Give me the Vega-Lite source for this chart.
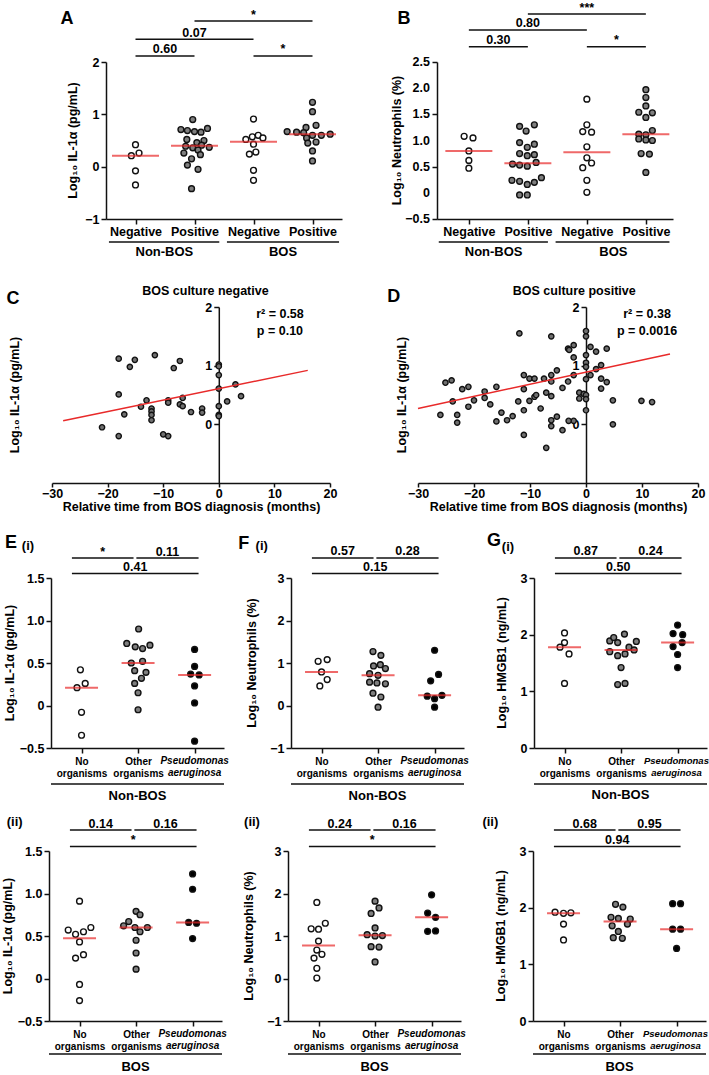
{
"$schema":"https://vega.github.io/schema/vega-lite/v6.json",
"padding":0,
"spacing":0,
"resolve":{"scale":{"fill":"independent"}},
"config":{"font":"Liberation Sans","view":{"stroke":null},
"axis":{"grid":false,"domainColor":"#111","domainWidth":1.5,"tickColor":"#111","tickWidth":1.5,"tickSize":5,"labelColor":"#000","labelFont":"Liberation Sans","labelFontWeight":"bold","labelFontSize":12.5,"labelPadding":2,"labelFlush":false,"labelOverlap":false,"titleFont":"Liberation Sans","titleFontWeight":"bold","titleFontSize":12.5,"titleColor":"#000"},
"text":{"font":"Liberation Sans","fontWeight":"bold","color":"#000"}},
"datasets":{
"a":[{"g":1,"c":"Negative","x":1.0,"v":0.42},{"g":1,"c":"Negative","x":1.06,"v":0.26},{"g":1,"c":"Negative","x":0.93,"v":0.21},{"g":1,"c":"Negative","x":1.0,"v":-0.08},{"g":1,"c":"Negative","x":1.0,"v":-0.35},
{"g":2,"c":"Positive","x":1.97,"v":0.90},{"g":2,"c":"Positive","x":2.22,"v":0.73},{"g":2,"c":"Positive","x":1.77,"v":0.71},{"g":2,"c":"Positive","x":1.88,"v":0.69},{"g":2,"c":"Positive","x":2.0,"v":0.67},{"g":2,"c":"Positive","x":2.11,"v":0.66},{"g":2,"c":"Positive","x":1.87,"v":0.52},{"g":2,"c":"Positive","x":2.16,"v":0.50},{"g":2,"c":"Positive","x":2.04,"v":0.46},{"g":2,"c":"Positive","x":2.12,"v":0.41},{"g":2,"c":"Positive","x":1.85,"v":0.39},{"g":2,"c":"Positive","x":2.25,"v":0.37},{"g":2,"c":"Positive","x":1.97,"v":0.36},{"g":2,"c":"Positive","x":2.06,"v":0.32},{"g":2,"c":"Positive","x":1.82,"v":0.26},{"g":2,"c":"Positive","x":2.1,"v":0.23},{"g":2,"c":"Positive","x":1.95,"v":0.15},{"g":2,"c":"Positive","x":1.88,"v":0.03},{"g":2,"c":"Positive","x":2.06,"v":-0.05},{"g":2,"c":"Positive","x":1.95,"v":-0.42},
{"g":3,"c":"Negative","x":3.0,"v":0.91},{"g":3,"c":"Negative","x":2.87,"v":0.52},{"g":3,"c":"Negative","x":2.98,"v":0.57},{"g":3,"c":"Negative","x":3.08,"v":0.60},{"g":3,"c":"Negative","x":3.16,"v":0.55},{"g":3,"c":"Negative","x":3.0,"v":0.43},{"g":3,"c":"Negative","x":3.04,"v":0.28},{"g":3,"c":"Negative","x":2.93,"v":0.24},{"g":3,"c":"Negative","x":3.0,"v":-0.07},{"g":3,"c":"Negative","x":3.0,"v":-0.26},
{"g":4,"c":"Positive","x":4.0,"v":1.23},{"g":4,"c":"Positive","x":4.0,"v":1.05},{"g":4,"c":"Positive","x":4.06,"v":0.79},{"g":4,"c":"Positive","x":3.89,"v":0.75},{"g":4,"c":"Positive","x":3.57,"v":0.67},{"g":4,"c":"Positive","x":3.73,"v":0.66},{"g":4,"c":"Positive","x":3.85,"v":0.65},{"g":4,"c":"Positive","x":4.3,"v":0.62},{"g":4,"c":"Positive","x":4.15,"v":0.60},{"g":4,"c":"Positive","x":4.0,"v":0.60},{"g":4,"c":"Positive","x":3.9,"v":0.55},{"g":4,"c":"Positive","x":4.06,"v":0.47},{"g":4,"c":"Positive","x":3.92,"v":0.45},{"g":4,"c":"Positive","x":4.0,"v":0.30},{"g":4,"c":"Positive","x":4.0,"v":0.11}],
"b":[{"g":1,"c":"Negative","x":0.92,"v":1.08},{"g":1,"c":"Negative","x":1.07,"v":1.05},{"g":1,"c":"Negative","x":1.0,"v":0.80},{"g":1,"c":"Negative","x":1.0,"v":0.62},{"g":1,"c":"Negative","x":1.0,"v":0.47},
{"g":2,"c":"Positive","x":1.86,"v":1.27},{"g":2,"c":"Positive","x":2.11,"v":1.30},{"g":2,"c":"Positive","x":1.97,"v":1.18},{"g":2,"c":"Positive","x":1.86,"v":0.96},{"g":2,"c":"Positive","x":1.99,"v":0.87},{"g":2,"c":"Positive","x":2.11,"v":0.93},{"g":2,"c":"Positive","x":1.86,"v":0.75},{"g":2,"c":"Positive","x":1.99,"v":0.71},{"g":2,"c":"Positive","x":2.11,"v":0.73},{"g":2,"c":"Positive","x":1.74,"v":0.55},{"g":2,"c":"Positive","x":1.86,"v":0.53},{"g":2,"c":"Positive","x":1.99,"v":0.51},{"g":2,"c":"Positive","x":2.14,"v":0.58},{"g":2,"c":"Positive","x":1.73,"v":0.24},{"g":2,"c":"Positive","x":1.86,"v":0.22},{"g":2,"c":"Positive","x":1.99,"v":0.16},{"g":2,"c":"Positive","x":2.11,"v":0.20},{"g":2,"c":"Positive","x":2.23,"v":0.29},{"g":2,"c":"Positive","x":1.86,"v":-0.04},{"g":2,"c":"Positive","x":1.99,"v":-0.04},
{"g":3,"c":"Negative","x":3.0,"v":1.79},{"g":3,"c":"Negative","x":3.0,"v":1.30},{"g":3,"c":"Negative","x":2.93,"v":1.17},{"g":3,"c":"Negative","x":3.08,"v":1.16},{"g":3,"c":"Negative","x":3.0,"v":0.88},{"g":3,"c":"Negative","x":3.0,"v":0.67},{"g":3,"c":"Negative","x":3.08,"v":0.57},{"g":3,"c":"Negative","x":2.93,"v":0.48},{"g":3,"c":"Negative","x":3.0,"v":0.24},{"g":3,"c":"Negative","x":3.0,"v":0.01},
{"g":4,"c":"Positive","x":4.0,"v":1.97},{"g":4,"c":"Positive","x":4.0,"v":1.82},{"g":4,"c":"Positive","x":4.0,"v":1.66},{"g":4,"c":"Positive","x":3.88,"v":1.54},{"g":4,"c":"Positive","x":4.11,"v":1.53},{"g":4,"c":"Positive","x":4.0,"v":1.44},{"g":4,"c":"Positive","x":4.11,"v":1.19},{"g":4,"c":"Positive","x":3.88,"v":1.12},{"g":4,"c":"Positive","x":4.0,"v":1.11},{"g":4,"c":"Positive","x":3.88,"v":1.03},{"g":4,"c":"Positive","x":4.0,"v":1.01},{"g":4,"c":"Positive","x":4.11,"v":1.00},{"g":4,"c":"Positive","x":3.92,"v":0.75},{"g":4,"c":"Positive","x":4.06,"v":0.74},{"g":4,"c":"Positive","x":4.0,"v":0.39}],
"il":[{"b":"Non-BOS","k":1,"x":0.98,"v":0.42},{"b":"Non-BOS","k":1,"x":1.065,"v":0.26},{"b":"Non-BOS","k":1,"x":0.92,"v":0.21},{"b":"Non-BOS","k":1,"x":1.0,"v":-0.08},{"b":"Non-BOS","k":1,"x":1.0,"v":-0.35},
{"b":"Non-BOS","k":2,"x":2.01,"v":0.90},{"b":"Non-BOS","k":2,"x":1.8,"v":0.73},{"b":"Non-BOS","k":2,"x":1.95,"v":0.69},{"b":"Non-BOS","k":2,"x":2.08,"v":0.67},{"b":"Non-BOS","k":2,"x":2.21,"v":0.71},{"b":"Non-BOS","k":2,"x":1.88,"v":0.50},{"b":"Non-BOS","k":2,"x":2.08,"v":0.52},{"b":"Non-BOS","k":2,"x":1.94,"v":0.41},{"b":"Non-BOS","k":2,"x":2.14,"v":0.39},{"b":"Non-BOS","k":2,"x":2.06,"v":0.32},{"b":"Non-BOS","k":2,"x":1.94,"v":0.26},{"b":"Non-BOS","k":2,"x":2.0,"v":0.15},{"b":"Non-BOS","k":2,"x":2.0,"v":-0.05},
{"b":"Non-BOS","k":3,"x":3.0,"v":0.66},{"b":"Non-BOS","k":3,"x":3.0,"v":0.46},{"b":"Non-BOS","k":3,"x":2.93,"v":0.37},{"b":"Non-BOS","k":3,"x":3.08,"v":0.36},{"b":"Non-BOS","k":3,"x":3.0,"v":0.23},{"b":"Non-BOS","k":3,"x":3.0,"v":0.03},{"b":"Non-BOS","k":3,"x":3.0,"v":-0.42},
{"b":"BOS","k":1,"x":1.0,"v":0.91},{"b":"BOS","k":1,"x":0.8,"v":0.57},{"b":"BOS","k":1,"x":0.93,"v":0.52},{"b":"BOS","k":1,"x":1.07,"v":0.55},{"b":"BOS","k":1,"x":1.2,"v":0.60},{"b":"BOS","k":1,"x":1.0,"v":0.43},{"b":"BOS","k":1,"x":1.07,"v":0.28},{"b":"BOS","k":1,"x":0.93,"v":0.24},{"b":"BOS","k":1,"x":1.0,"v":-0.07},{"b":"BOS","k":1,"x":1.0,"v":-0.26},
{"b":"BOS","k":2,"x":2.0,"v":0.79},{"b":"BOS","k":2,"x":2.07,"v":0.75},{"b":"BOS","k":2,"x":1.87,"v":0.67},{"b":"BOS","k":2,"x":1.78,"v":0.62},{"b":"BOS","k":2,"x":1.98,"v":0.60},{"b":"BOS","k":2,"x":2.2,"v":0.60},{"b":"BOS","k":2,"x":2.07,"v":0.55},{"b":"BOS","k":2,"x":2.0,"v":0.45},{"b":"BOS","k":2,"x":2.0,"v":0.30},{"b":"BOS","k":2,"x":2.0,"v":0.11},
{"b":"BOS","k":3,"x":3.0,"v":1.23},{"b":"BOS","k":3,"x":3.0,"v":1.05},{"b":"BOS","k":3,"x":2.93,"v":0.66},{"b":"BOS","k":3,"x":3.07,"v":0.65},{"b":"BOS","k":3,"x":3.0,"v":0.47}],
"ne":[{"b":"Non-BOS","k":1,"x":0.94,"v":1.04},{"b":"Non-BOS","k":1,"x":1.1,"v":1.08},{"b":"Non-BOS","k":1,"x":1.0,"v":0.79},{"b":"Non-BOS","k":1,"x":1.1,"v":0.61},{"b":"Non-BOS","k":1,"x":0.97,"v":0.46},
{"b":"Non-BOS","k":2,"x":1.91,"v":1.27},{"b":"Non-BOS","k":2,"x":2.05,"v":1.18},{"b":"Non-BOS","k":2,"x":1.92,"v":0.93},{"b":"Non-BOS","k":2,"x":2.04,"v":0.96},{"b":"Non-BOS","k":2,"x":2.13,"v":0.87},{"b":"Non-BOS","k":2,"x":1.85,"v":0.75},{"b":"Non-BOS","k":2,"x":2.0,"v":0.71},{"b":"Non-BOS","k":2,"x":1.85,"v":0.55},{"b":"Non-BOS","k":2,"x":1.98,"v":0.53},{"b":"Non-BOS","k":2,"x":2.13,"v":0.51},{"b":"Non-BOS","k":2,"x":1.91,"v":0.29},{"b":"Non-BOS","k":2,"x":2.05,"v":0.20},{"b":"Non-BOS","k":2,"x":2.0,"v":-0.04},
{"b":"Non-BOS","k":3,"x":3.0,"v":1.30},{"b":"Non-BOS","k":3,"x":3.07,"v":0.73},{"b":"Non-BOS","k":3,"x":2.93,"v":0.58},{"b":"Non-BOS","k":3,"x":2.87,"v":0.22},{"b":"Non-BOS","k":3,"x":3.0,"v":0.16},{"b":"Non-BOS","k":3,"x":3.13,"v":0.24},{"b":"Non-BOS","k":3,"x":3.0,"v":-0.04},
{"b":"BOS","k":1,"x":0.97,"v":1.79},{"b":"BOS","k":1,"x":1.12,"v":1.30},{"b":"BOS","k":1,"x":0.87,"v":1.17},{"b":"BOS","k":1,"x":1.0,"v":1.16},{"b":"BOS","k":1,"x":1.0,"v":0.88},{"b":"BOS","k":1,"x":0.97,"v":0.67},{"b":"BOS","k":1,"x":1.06,"v":0.57},{"b":"BOS","k":1,"x":0.92,"v":0.48},{"b":"BOS","k":1,"x":0.97,"v":0.24},{"b":"BOS","k":1,"x":0.97,"v":0.01},
{"b":"BOS","k":2,"x":2.0,"v":1.82},{"b":"BOS","k":2,"x":2.07,"v":1.66},{"b":"BOS","k":2,"x":1.93,"v":1.53},{"b":"BOS","k":2,"x":2.0,"v":1.19},{"b":"BOS","k":2,"x":1.86,"v":1.03},{"b":"BOS","k":2,"x":2.0,"v":1.00},{"b":"BOS","k":2,"x":2.13,"v":1.01},{"b":"BOS","k":2,"x":1.93,"v":0.75},{"b":"BOS","k":2,"x":2.07,"v":0.74},{"b":"BOS","k":2,"x":2.0,"v":0.39},
{"b":"BOS","k":3,"x":3.0,"v":1.97},{"b":"BOS","k":3,"x":2.93,"v":1.54},{"b":"BOS","k":3,"x":3.07,"v":1.44},{"b":"BOS","k":3,"x":2.93,"v":1.11},{"b":"BOS","k":3,"x":3.07,"v":1.12}],
"hm":[{"b":"Non-BOS","k":1,"x":1.0,"v":2.03},{"b":"Non-BOS","k":1,"x":1.0,"v":1.86},{"b":"Non-BOS","k":1,"x":0.92,"v":1.78},{"b":"Non-BOS","k":1,"x":1.08,"v":1.66},{"b":"Non-BOS","k":1,"x":1.0,"v":1.14},
{"b":"Non-BOS","k":2,"x":1.8,"v":1.89},{"b":"Non-BOS","k":2,"x":1.87,"v":1.95},{"b":"Non-BOS","k":2,"x":1.94,"v":1.86},{"b":"Non-BOS","k":2,"x":2.06,"v":2.01},{"b":"Non-BOS","k":2,"x":2.27,"v":1.88},{"b":"Non-BOS","k":2,"x":1.8,"v":1.70},{"b":"Non-BOS","k":2,"x":1.94,"v":1.63},{"b":"Non-BOS","k":2,"x":2.07,"v":1.66},{"b":"Non-BOS","k":2,"x":2.14,"v":1.78},{"b":"Non-BOS","k":2,"x":2.23,"v":1.73},{"b":"Non-BOS","k":2,"x":2.0,"v":1.42},{"b":"Non-BOS","k":2,"x":1.94,"v":1.12},{"b":"Non-BOS","k":2,"x":2.07,"v":1.14},
{"b":"Non-BOS","k":3,"x":3.0,"v":2.17},{"b":"Non-BOS","k":3,"x":2.92,"v":2.02},{"b":"Non-BOS","k":3,"x":3.09,"v":2.00},{"b":"Non-BOS","k":3,"x":2.92,"v":1.79},{"b":"Non-BOS","k":3,"x":3.08,"v":1.86},{"b":"Non-BOS","k":3,"x":3.0,"v":1.65},{"b":"Non-BOS","k":3,"x":3.0,"v":1.42},
{"b":"BOS","k":1,"x":0.85,"v":1.92},{"b":"BOS","k":1,"x":1.0,"v":1.90},{"b":"BOS","k":1,"x":1.13,"v":1.91},{"b":"BOS","k":1,"x":1.0,"v":1.71},{"b":"BOS","k":1,"x":1.0,"v":1.43},
{"b":"BOS","k":2,"x":1.92,"v":2.06},{"b":"BOS","k":2,"x":2.05,"v":2.01},{"b":"BOS","k":2,"x":1.84,"v":1.83},{"b":"BOS","k":2,"x":1.97,"v":1.81},{"b":"BOS","k":2,"x":2.18,"v":1.80},{"b":"BOS","k":2,"x":1.86,"v":1.68},{"b":"BOS","k":2,"x":2.13,"v":1.71},{"b":"BOS","k":2,"x":1.97,"v":1.58},{"b":"BOS","k":2,"x":1.88,"v":1.47},{"b":"BOS","k":2,"x":2.04,"v":1.46},
{"b":"BOS","k":3,"x":2.93,"v":2.07},{"b":"BOS","k":3,"x":3.07,"v":2.07},{"b":"BOS","k":3,"x":2.93,"v":1.62},{"b":"BOS","k":3,"x":3.07,"v":1.62},{"b":"BOS","k":3,"x":3.0,"v":1.28}],
"cn":[{"t":-18,"v":1.12},{"t":-15.1,"v":1.10},{"t":-11.5,"v":1.18},{"t":-16,"v":0.98},{"t":-7,"v":1.08},{"t":-8.1,"v":0.96},{"t":0,"v":1.02},{"t":0,"v":0.99},{"t":0,"v":0.84},{"t":0,"v":0.61},{"t":3,"v":0.68},{"t":4,"v":0.48},{"t":1.5,"v":0.39},{"t":0,"v":0.31},{"t":0,"v":0.16},{"t":0,"v":0.14},{"t":-18,"v":0.51},{"t":-13,"v":0.41},{"t":-14,"v":0.30},{"t":-17,"v":0.17},{"t":-12.1,"v":0.27},{"t":-12.1,"v":0.22},{"t":-12.1,"v":0.16},{"t":-12.1,"v":0.07},{"t":-9.1,"v":0.41},{"t":-9.1,"v":0.37},{"t":-7,"v":0.34},{"t":-6.5,"v":0.45},{"t":-6.5,"v":0.31},{"t":-5,"v":0.21},{"t":-3,"v":0.27},{"t":-3,"v":0.20},{"t":-21,"v":-0.05},{"t":-18,"v":-0.20},{"t":-10,"v":-0.17},{"t":-9.1,"v":-0.20}],
"cp":[{"t":-26,"v":0.16},{"t":-25.1,"v":0.71},{"t":-24,"v":0.75},{"t":-23.8,"v":0.39},{"t":-23,"v":0.16},{"t":-23,"v":0.03},{"t":-22.1,"v":0.60},{"t":-21,"v":0.64},{"t":-21,"v":0.30},{"t":-20,"v":0.41},{"t":-18.1,"v":0.56},{"t":-18.1,"v":0.45},{"t":-17.1,"v":0.34},{"t":-16,"v":0.64},{"t":-16,"v":0.05},{"t":-15.1,"v":0.20},{"t":-14.1,"v":0.07},{"t":-13.1,"v":0.14},{"t":-12.1,"v":0.39},{"t":-11.9,"v":1.55},{"t":-11.1,"v":0.84},{"t":-11.1,"v":0.60},{"t":-11.1,"v":0.24},{"t":-11.1,"v":-0.18},{"t":-10.1,"v":0.78},{"t":-10.1,"v":0.40},{"t":-9.2,"v":0.78},{"t":-9.2,"v":0.47},{"t":-8.9,"v":0.50},{"t":-8.1,"v":0.27},{"t":-7.5,"v":0.78},{"t":-7.1,"v":0.54},{"t":-7.1,"v":-0.40},{"t":-6.2,"v":1.50},{"t":-6.2,"v":0.84},{"t":-6.2,"v":0.73},{"t":-6.2,"v":0.48},{"t":-6.2,"v":0.07},{"t":-6.2,"v":-0.03},{"t":-5.2,"v":0.13},{"t":-5.2,"v":0.92},{"t":-4.2,"v":0.62},{"t":-4.2,"v":-0.10},{"t":-3.2,"v":0.73},{"t":-3.2,"v":1.29},{"t":-3.0,"v":1.27},{"t":-2.2,"v":1.35},{"t":-2.2,"v":1.14},{"t":-2.2,"v":0.84},{"t":-2.2,"v":0.06},{"t":-3.1,"v":0.06},{"t":-1.2,"v":0.54},{"t":-1.2,"v":0.44},{"t":-0.4,"v":0.52},{"t":0,"v":1.59},{"t":0,"v":1.50},{"t":0,"v":1.18},{"t":0,"v":1.05},{"t":0,"v":0.98},{"t":0,"v":0.77},{"t":0,"v":0.50},{"t":0,"v":0.43},{"t":0,"v":0.24},{"t":0.8,"v":1.32},{"t":0.8,"v":0.84},{"t":1.8,"v":1.24},{"t":1.8,"v":0.94},{"t":2.7,"v":1.01},{"t":2.7,"v":0.78},{"t":2.7,"v":0.61},{"t":3.7,"v":1.29},{"t":3.7,"v":0.72},{"t":4.8,"v":0.41},{"t":4.8,"v":0.0},{"t":9.9,"v":0.40},{"t":11.8,"v":0.38}]
},
"vconcat":[
{"hconcat":[
{"width":1,"height":1,"data":{"values":[{}]},"mark":{"type":"rule","opacity":0,"strokeWidth":0},"encoding":{}},
{"width":236,"height":157,"layer":[
{"data":{"name":"a"},"mark":{"type":"point","shape":"circle","filled":true,"size":34,"stroke":"#111","strokeWidth":1.4,"opacity":1},
"encoding":{"x":{"field":"x","type":"quantitative","scale":{"domain":[0.5,4.5],"nice":false,"zero":false},"axis":{"values":[1,2,3,4],"title":null,"labelExpr":"datum.value%2==1?'Negative':'Positive'","labelPadding":1}},
"y":{"field":"v","type":"quantitative","scale":{"domain":[-1,2],"nice":false,"zero":false},"axis":{"values":[-1,0,1,2],"format":"d","title":null}},
"fill":{"field":"c","type":"nominal","scale":{"domain":["Negative","Positive"],"range":["#ffffff","#7f7f7f"]},"legend":null}}},
{"data":{"name":"a"},"transform":[{"aggregate":[{"op":"median","field":"v","as":"m"}],"groupby":["g"]}],"mark":{"type":"tick","orient":"horizontal","color":"#e82a2a","size":47,"thickness":2},"encoding":{"x":{"field":"g","type":"quantitative"},"y":{"field":"m","type":"quantitative"}}},
{"data":{"values":[{"x1":1,"x2":2,"y":2.115,"t":"0.60","m":1.5},{"x1":1,"x2":3,"y":2.434,"t":"0.07","m":2},{"x1":2,"x2":4,"y":2.783,"t":"*","m":3},{"x1":3,"x2":4,"y":2.115,"t":"*","m":3.5}]},"layer":[
{"mark":{"type":"rule","color":"#111","strokeWidth":1.5},"encoding":{"x":{"field":"x1","type":"quantitative"},"x2":{"field":"x2"},"y":{"field":"y","type":"quantitative"}}},
{"mark":{"type":"text","dy":-2.5,"fontSize":12.5,"baseline":"alphabetic"},"encoding":{"x":{"field":"m","type":"quantitative"},"y":{"field":"y","type":"quantitative"},"text":{"field":"t","type":"nominal"}}}]},
{"data":{"values":[{"x1":0.55,"x2":2.42,"y":-1.44,"ty":-1.63,"t":"Non-BOS","m":1.49},{"x1":2.55,"x2":4.45,"y":-1.44,"ty":-1.63,"t":"BOS","m":3.5}]},"layer":[
{"mark":{"type":"rule","color":"#111","strokeWidth":1.5},"encoding":{"x":{"field":"x1","type":"quantitative"},"x2":{"field":"x2"},"y":{"field":"y","type":"quantitative"}}},
{"mark":{"type":"text","fontSize":13,"baseline":"middle"},"encoding":{"x":{"field":"m","type":"quantitative"},"y":{"field":"ty","type":"quantitative"},"text":{"field":"t","type":"nominal"}}}]},
{"data":{"values":[{"x":-0.059,"y":0.5,"t":"Log₁₀ IL-1α (pg/mL)"}]},"mark":{"type":"text","fontSize":12.5,"angle":270,"baseline":"middle","align":"center"},"encoding":{"x":{"field":"x","type":"quantitative"},"y":{"field":"y","type":"quantitative"},"text":{"field":"t","type":"nominal"}}},
{"data":{"values":[{"x":-0.16,"y":2.822,"t":"A"}]},"mark":{"type":"text","fontSize":18,"baseline":"middle"},"encoding":{"x":{"field":"x","type":"quantitative"},"y":{"field":"y","type":"quantitative"},"text":{"field":"t","type":"nominal"}}},
{"data":{"values":[{"x1":-1.254,"x2":4.99,"y1":3.166,"y2":-1.898}]},"mark":{"type":"rule","opacity":0,"strokeWidth":0},"encoding":{"x":{"field":"x1","type":"quantitative"},"x2":{"field":"x2"},"y":{"field":"y1","type":"quantitative"},"y2":{"field":"y2"}}}
]},
{"width":236,"height":157,"layer":[
{"data":{"name":"b"},"mark":{"type":"point","shape":"circle","filled":true,"size":34,"stroke":"#111","strokeWidth":1.4,"opacity":1},
"encoding":{"x":{"field":"x","type":"quantitative","scale":{"domain":[0.46,4.46],"nice":false,"zero":false},"axis":{"values":[1,2,3,4],"title":null,"labelExpr":"datum.value%2==1?'Negative':'Positive'","labelPadding":1}},
"y":{"field":"v","type":"quantitative","scale":{"domain":[-0.5,2.5],"nice":false,"zero":false},"axis":{"values":[-0.5,0,0.5,1,1.5,2,2.5],"labels":false,"title":null}},
"fill":{"field":"c","type":"nominal","scale":{"domain":["Negative","Positive"],"range":["#ffffff","#7f7f7f"]},"legend":null}}},
{"data":{"name":"b"},"transform":[{"aggregate":[{"op":"median","field":"v","as":"m"}],"groupby":["g"]}],"mark":{"type":"tick","orient":"horizontal","color":"#e82a2a","size":47,"thickness":2},"encoding":{"x":{"field":"g","type":"quantitative"},"y":{"field":"m","type":"quantitative"}}},
{"data":{"values":[{"x":0.341,"y":2.5,"t":"2.5"},{"x":0.341,"y":2.0,"t":"2.0"},{"x":0.341,"y":1.5,"t":"1.5"},{"x":0.341,"y":1.0,"t":"1.0"},{"x":0.341,"y":0.5,"t":"0.5"},{"x":0.341,"y":0,"t":"0"},{"x":0.341,"y":-0.5,"t":"−0.5"}]},"mark":{"type":"text","fontSize":12.5,"align":"right","baseline":"middle"},"encoding":{"x":{"field":"x","type":"quantitative"},"y":{"field":"y","type":"quantitative"},"text":{"field":"t","type":"nominal"}}},
{"data":{"values":[{"x1":1,"x2":2,"y":2.792,"t":"0.30","m":1.5},{"x1":1,"x2":3,"y":3.112,"t":"0.80","m":2},{"x1":2,"x2":4,"y":3.417,"t":"***","m":3},{"x1":3,"x2":4,"y":2.792,"t":"*","m":3.5}]},"layer":[
{"mark":{"type":"rule","color":"#111","strokeWidth":1.5},"encoding":{"x":{"field":"x1","type":"quantitative"},"x2":{"field":"x2"},"y":{"field":"y","type":"quantitative"}}},
{"mark":{"type":"text","dy":-2.5,"fontSize":12.5,"baseline":"alphabetic"},"encoding":{"x":{"field":"m","type":"quantitative"},"y":{"field":"y","type":"quantitative"},"text":{"field":"t","type":"nominal"}}}]},
{"data":{"values":[{"x1":0.49,"x2":2.34,"y":-0.94,"ty":-1.131,"t":"Non-BOS","m":1.42},{"x1":2.47,"x2":4.4,"y":-0.94,"ty":-1.131,"t":"BOS","m":3.45}]},"layer":[
{"mark":{"type":"rule","color":"#111","strokeWidth":1.5},"encoding":{"x":{"field":"x1","type":"quantitative"},"x2":{"field":"x2"},"y":{"field":"y","type":"quantitative"}}},
{"mark":{"type":"text","fontSize":13,"baseline":"middle"},"encoding":{"x":{"field":"m","type":"quantitative"},"y":{"field":"ty","type":"quantitative"},"text":{"field":"t","type":"nominal"}}}]},
{"data":{"values":[{"x":-0.218,"y":1.0,"t":"Log₁₀ Neutrophils (%)"}]},"mark":{"type":"text","fontSize":12.5,"angle":270,"baseline":"middle","align":"center"},"encoding":{"x":{"field":"x","type":"quantitative"},"y":{"field":"y","type":"quantitative"},"text":{"field":"t","type":"nominal"}}},
{"data":{"values":[{"x":-0.099,"y":3.322,"t":"B"}]},"mark":{"type":"text","fontSize":18,"baseline":"middle"},"encoding":{"x":{"field":"x","type":"quantitative"},"y":{"field":"y","type":"quantitative"},"text":{"field":"t","type":"nominal"}}},
{"data":{"values":[{"x1":-0.642,"x2":5.09,"y1":3.666,"y2":-1.398}]},"mark":{"type":"rule","opacity":0,"strokeWidth":0},"encoding":{"x":{"field":"x1","type":"quantitative"},"x2":{"field":"x2"},"y":{"field":"y1","type":"quantitative"},"y2":{"field":"y2"}}}
]}
],"spacing":0,"resolve":{"scale":{"fill":"independent"}}},
{"hconcat":[
{"width":1,"height":1,"data":{"values":[{}]},"mark":{"type":"rule","opacity":0,"strokeWidth":0},"encoding":{}},
{"width":278,"height":176,"layer":[
{"data":{"name":"cn"},"mark":{"type":"point","shape":"circle","filled":true,"size":28,"fill":"#707070","stroke":"#111","strokeWidth":1.4,"opacity":1},
"encoding":{"x":{"field":"t","type":"quantitative","scale":{"domain":[-30,20],"nice":false,"zero":false},"axis":{"values":[-30,-20,-10,0,10,20],"format":"d","title":"Relative time from BOS diagnosis (months)","titlePadding":1,"labelPadding":0,"tickSize":4}},
"y":{"field":"v","type":"quantitative","scale":{"domain":[-1,2],"nice":false,"zero":false},"axis":{"values":[0,1,2],"format":"d","offset":-166.8,"title":null}}}},
{"data":{"values":[{"t":-28,"v":0.06},{"t":16,"v":0.92}]},"mark":{"type":"line","color":"#e82a2a","strokeWidth":1.5},"encoding":{"x":{"field":"t","type":"quantitative"},"y":{"field":"v","type":"quantitative"}}},
{"data":{"values":[{"x":-2.4,"y":2.27,"t":"BOS culture negative"},{"x":11,"y":1.88,"t":"r² = 0.58"},{"x":11,"y":1.59,"t":"p = 0.10"}]},"mark":{"type":"text","fontSize":12.5,"baseline":"middle"},"encoding":{"x":{"field":"x","type":"quantitative"},"y":{"field":"y","type":"quantitative"},"text":{"field":"t","type":"nominal"}}},
{"data":{"values":[{"x":-36.65,"y":0.5,"t":"Log₁₀ IL-1α (pg/mL)"}]},"mark":{"type":"text","fontSize":12.5,"angle":270,"baseline":"middle","align":"center"},"encoding":{"x":{"field":"x","type":"quantitative"},"y":{"field":"y","type":"quantitative"},"text":{"field":"t","type":"nominal"}}},
{"data":{"values":[{"x":-37.0,"y":2.14,"t":"C"}]},"mark":{"type":"text","fontSize":18,"baseline":"middle"},"encoding":{"x":{"field":"x","type":"quantitative"},"y":{"field":"y","type":"quantitative"},"text":{"field":"t","type":"nominal"}}},
{"data":{"values":[{"x1":-38.9,"x2":26.47,"y1":2.682,"y2":-1.784}]},"mark":{"type":"rule","opacity":0,"strokeWidth":0},"encoding":{"x":{"field":"x1","type":"quantitative"},"x2":{"field":"x2"},"y":{"field":"y1","type":"quantitative"},"y2":{"field":"y2"}}}
]},
{"width":280,"height":176,"layer":[
{"data":{"name":"cp"},"mark":{"type":"point","shape":"circle","filled":true,"size":28,"fill":"#707070","stroke":"#111","strokeWidth":1.4,"opacity":1},
"encoding":{"x":{"field":"t","type":"quantitative","scale":{"domain":[-30,20],"nice":false,"zero":false},"axis":{"values":[-30,-20,-10,0,10,20],"format":"d","title":"Relative time from BOS diagnosis (months)","titlePadding":1,"labelPadding":0,"tickSize":4}},
"y":{"field":"v","type":"quantitative","scale":{"domain":[-1,2],"nice":false,"zero":false},"axis":{"values":[0,1,2],"format":"d","offset":-168,"title":null}}}},
{"data":{"values":[{"t":-30,"v":0.27},{"t":15,"v":1.2}]},"mark":{"type":"line","color":"#e82a2a","strokeWidth":1.5},"encoding":{"x":{"field":"t","type":"quantitative"},"y":{"field":"v","type":"quantitative"}}},
{"data":{"values":[{"x":-2.1,"y":2.27,"t":"BOS culture positive"},{"x":10.9,"y":1.88,"t":"r² = 0.38"},{"x":10.9,"y":1.59,"t":"p = 0.0016"}]},"mark":{"type":"text","fontSize":12.5,"baseline":"middle"},"encoding":{"x":{"field":"x","type":"quantitative"},"y":{"field":"y","type":"quantitative"},"text":{"field":"t","type":"nominal"}}},
{"data":{"values":[{"x":-32.86,"y":0.5,"t":"Log₁₀ IL-1α (pg/mL)"}]},"mark":{"type":"text","fontSize":12.5,"angle":270,"baseline":"middle","align":"center"},"encoding":{"x":{"field":"x","type":"quantitative"},"y":{"field":"y","type":"quantitative"},"text":{"field":"t","type":"nominal"}}},
{"data":{"values":[{"x":-34.34,"y":2.17,"t":"D"}]},"mark":{"type":"text","fontSize":18,"baseline":"middle"},"encoding":{"x":{"field":"x","type":"quantitative"},"y":{"field":"y","type":"quantitative"},"text":{"field":"t","type":"nominal"}}},
{"data":{"values":[{"x1":-39.11,"x2":22.2,"y1":2.682,"y2":-1.784}]},"mark":{"type":"rule","opacity":0,"strokeWidth":0},"encoding":{"x":{"field":"x1","type":"quantitative"},"x2":{"field":"x2"},"y":{"field":"y1","type":"quantitative"},"y2":{"field":"y2"}}}
]}
],"spacing":0,"resolve":{"scale":{"fill":"independent"}}},
{"hconcat":[
{"width":1,"height":1,"data":{"values":[{}]},"mark":{"type":"rule","opacity":0,"strokeWidth":0},"encoding":{}},
{"width":173,"height":170,"layer":[
{"data":{"name":"il"},"transform":[{"filter":"datum.b=='Non-BOS'"}],"mark":{"type":"point","shape":"circle","filled":true,"size":34,"stroke":"#111","strokeWidth":1.4,"opacity":1},
"encoding":{"x":{"field":"x","type":"quantitative","scale":{"domain":[0.46,3.52],"nice":false,"zero":false},"axis":{"values":[1,2,3],"title":null,"labelFontSize":10,"labelLineHeight":12.5,"labelPadding":3,"labelExpr":"datum.value==1?['No','organisms']:datum.value==2?['Other','organisms']:''"}},
"y":{"field":"v","type":"quantitative","scale":{"domain":[-0.5,1.5],"nice":false,"zero":false},"axis":{"values":[-0.5,0,0.5,1,1.5],"labelExpr":"datum.value==0?'0':format(datum.value,'.1f')","title":null}},
"fill":{"field":"k","type":"nominal","scale":{"domain":[1,2,3],"range":["#ffffff","#7f7f7f","#000000"]},"legend":null}}},
{"data":{"name":"il"},"transform":[{"filter":"datum.b=='Non-BOS'"},{"aggregate":[{"op":"median","field":"v","as":"m"}],"groupby":["k"]}],"mark":{"type":"tick","orient":"horizontal","color":"#e82a2a","size":33,"thickness":2},"encoding":{"x":{"field":"k","type":"quantitative"},"y":{"field":"m","type":"quantitative"}}},
{"data":{"values":[{"x1":0.83,"x2":1.92,"y":1.735,"t":"*","m":1.375},{"x1":1.97,"x2":3.07,"y":1.735,"t":"0.11","m":2.52},{"x1":0.83,"x2":3.07,"y":1.553,"t":"0.41","m":1.95}]},"layer":[
{"mark":{"type":"rule","color":"#111","strokeWidth":1.5},"encoding":{"x":{"field":"x1","type":"quantitative"},"x2":{"field":"x2"},"y":{"field":"y","type":"quantitative"}}},
{"mark":{"type":"text","dy":-2.5,"fontSize":12.5,"baseline":"alphabetic"},"encoding":{"x":{"field":"m","type":"quantitative"},"y":{"field":"y","type":"quantitative"},"text":{"field":"t","type":"nominal"}}}]},
{"data":{"values":[{"x1":0.46,"x2":3.52,"y":-0.924,"ty":-1.059,"t":"Non-BOS","m":1.99}]},"layer":[
{"mark":{"type":"rule","color":"#111","strokeWidth":1.5},"encoding":{"x":{"field":"x1","type":"quantitative"},"x2":{"field":"x2"},"y":{"field":"y","type":"quantitative"}}},
{"mark":{"type":"text","fontSize":13,"baseline":"middle"},"encoding":{"x":{"field":"m","type":"quantitative"},"y":{"field":"ty","type":"quantitative"},"text":{"field":"t","type":"nominal"}}}]},
{"data":{"values":[{"x":3,"y":-0.594}]},"mark":{"type":"text","fontSize":10,"fontStyle":"italic","baseline":"top","lineHeight":12.5},"encoding":{"x":{"field":"x","type":"quantitative"},"y":{"field":"y","type":"quantitative"},"text":{"value":["Pseudomonas","aeruginosa"]}}},
{"data":{"values":[{"x":-0.265,"y":0.5,"t":"Log₁₀ IL-1α (pg/mL)"}]},"mark":{"type":"text","fontSize":12.5,"angle":270,"baseline":"middle","align":"center"},"encoding":{"x":{"field":"x","type":"quantitative"},"y":{"field":"y","type":"quantitative"},"text":{"field":"t","type":"nominal"}}},
{"data":{"values":[{"x":-0.247,"y":1.912,"t":"E"}]},"mark":{"type":"text","fontSize":18,"baseline":"middle"},"encoding":{"x":{"field":"x","type":"quantitative"},"y":{"field":"y","type":"quantitative"},"text":{"field":"t","type":"nominal"}}},
{"data":{"values":[{"x":0.053,"y":1.876,"t":"(i)"}]},"mark":{"type":"text","fontSize":13,"baseline":"middle"},"encoding":{"x":{"field":"x","type":"quantitative"},"y":{"field":"y","type":"quantitative"},"text":{"field":"t","type":"nominal"}}},
{"data":{"values":[{"x1":-0.398,"x2":3.644,"y1":2.065,"y2":-1.194}]},"mark":{"type":"rule","opacity":0,"strokeWidth":0},"encoding":{"x":{"field":"x1","type":"quantitative"},"x2":{"field":"x2"},"y":{"field":"y1","type":"quantitative"},"y2":{"field":"y2"}}}
]},
{"width":173,"height":170,"layer":[
{"data":{"name":"ne"},"transform":[{"filter":"datum.b=='Non-BOS'"}],"mark":{"type":"point","shape":"circle","filled":true,"size":34,"stroke":"#111","strokeWidth":1.4,"opacity":1},
"encoding":{"x":{"field":"x","type":"quantitative","scale":{"domain":[0.46,3.52],"nice":false,"zero":false},"axis":{"values":[1,2,3],"title":null,"labelFontSize":10,"labelLineHeight":12.5,"labelPadding":3,"labelExpr":"datum.value==1?['No','organisms']:datum.value==2?['Other','organisms']:''"}},
"y":{"field":"v","type":"quantitative","scale":{"domain":[-1,3],"nice":false,"zero":false},"axis":{"values":[-1,0,1,2,3],"format":"d","title":null}},
"fill":{"field":"k","type":"nominal","scale":{"domain":[1,2,3],"range":["#ffffff","#7f7f7f","#000000"]},"legend":null}}},
{"data":{"name":"ne"},"transform":[{"filter":"datum.b=='Non-BOS'"},{"aggregate":[{"op":"median","field":"v","as":"m"}],"groupby":["k"]}],"mark":{"type":"tick","orient":"horizontal","color":"#e82a2a","size":33,"thickness":2},"encoding":{"x":{"field":"k","type":"quantitative"},"y":{"field":"m","type":"quantitative"}}},
{"data":{"values":[{"x1":0.83,"x2":1.92,"y":3.471,"t":"0.57","m":1.375},{"x1":1.97,"x2":3.07,"y":3.471,"t":"0.28","m":2.52},{"x1":0.83,"x2":3.07,"y":3.106,"t":"0.15","m":1.95}]},"layer":[
{"mark":{"type":"rule","color":"#111","strokeWidth":1.5},"encoding":{"x":{"field":"x1","type":"quantitative"},"x2":{"field":"x2"},"y":{"field":"y","type":"quantitative"}}},
{"mark":{"type":"text","dy":-2.5,"fontSize":12.5,"baseline":"alphabetic"},"encoding":{"x":{"field":"m","type":"quantitative"},"y":{"field":"y","type":"quantitative"},"text":{"field":"t","type":"nominal"}}}]},
{"data":{"values":[{"x1":0.46,"x2":3.52,"y":-1.847,"ty":-2.118,"t":"Non-BOS","m":1.99}]},"layer":[
{"mark":{"type":"rule","color":"#111","strokeWidth":1.5},"encoding":{"x":{"field":"x1","type":"quantitative"},"x2":{"field":"x2"},"y":{"field":"y","type":"quantitative"}}},
{"mark":{"type":"text","fontSize":13,"baseline":"middle"},"encoding":{"x":{"field":"m","type":"quantitative"},"y":{"field":"ty","type":"quantitative"},"text":{"field":"t","type":"nominal"}}}]},
{"data":{"values":[{"x":3,"y":-1.188}]},"mark":{"type":"text","fontSize":10,"fontStyle":"italic","baseline":"top","lineHeight":12.5},"encoding":{"x":{"field":"x","type":"quantitative"},"y":{"field":"y","type":"quantitative"},"text":{"value":["Pseudomonas","aeruginosa"]}}},
{"data":{"values":[{"x":-0.23,"y":1.0,"t":"Log₁₀ Neutrophils (%)"}]},"mark":{"type":"text","fontSize":12.5,"angle":270,"baseline":"middle","align":"center"},"encoding":{"x":{"field":"x","type":"quantitative"},"y":{"field":"y","type":"quantitative"},"text":{"field":"t","type":"nominal"}}},
{"data":{"values":[{"x":-0.377,"y":3.8,"t":"F"}]},"mark":{"type":"text","fontSize":18,"baseline":"middle"},"encoding":{"x":{"field":"x","type":"quantitative"},"y":{"field":"y","type":"quantitative"},"text":{"field":"t","type":"nominal"}}},
{"data":{"values":[{"x":-0.058,"y":3.753,"t":"(i)"}]},"mark":{"type":"text","fontSize":13,"baseline":"middle"},"encoding":{"x":{"field":"x","type":"quantitative"},"y":{"field":"y","type":"quantitative"},"text":{"field":"t","type":"nominal"}}},
{"data":{"values":[{"x1":-0.571,"x2":3.815,"y1":4.129,"y2":-2.388}]},"mark":{"type":"rule","opacity":0,"strokeWidth":0},"encoding":{"x":{"field":"x1","type":"quantitative"},"x2":{"field":"x2"},"y":{"field":"y1","type":"quantitative"},"y2":{"field":"y2"}}}
]},
{"width":173,"height":170,"layer":[
{"data":{"name":"hm"},"transform":[{"filter":"datum.b=='Non-BOS'"}],"mark":{"type":"point","shape":"circle","filled":true,"size":34,"stroke":"#111","strokeWidth":1.4,"opacity":1},
"encoding":{"x":{"field":"x","type":"quantitative","scale":{"domain":[0.46,3.52],"nice":false,"zero":false},"axis":{"values":[1,2,3],"title":null,"labelFontSize":10,"labelLineHeight":12.5,"labelPadding":3,"labelExpr":"datum.value==1?['No','organisms']:datum.value==2?['Other','organisms']:''"}},
"y":{"field":"v","type":"quantitative","scale":{"domain":[0,3],"nice":false,"zero":false},"axis":{"values":[0,1,2,3],"format":"d","title":null}},
"fill":{"field":"k","type":"nominal","scale":{"domain":[1,2,3],"range":["#ffffff","#7f7f7f","#000000"]},"legend":null}}},
{"data":{"name":"hm"},"transform":[{"filter":"datum.b=='Non-BOS'"},{"aggregate":[{"op":"median","field":"v","as":"m"}],"groupby":["k"]}],"mark":{"type":"tick","orient":"horizontal","color":"#e82a2a","size":33,"thickness":2},"encoding":{"x":{"field":"k","type":"quantitative"},"y":{"field":"m","type":"quantitative"}}},
{"data":{"values":[{"x1":0.83,"x2":1.92,"y":3.353,"t":"0.87","m":1.375},{"x1":1.97,"x2":3.07,"y":3.353,"t":"0.24","m":2.52},{"x1":0.83,"x2":3.07,"y":3.079,"t":"0.50","m":1.95}]},"layer":[
{"mark":{"type":"rule","color":"#111","strokeWidth":1.5},"encoding":{"x":{"field":"x1","type":"quantitative"},"x2":{"field":"x2"},"y":{"field":"y","type":"quantitative"}}},
{"mark":{"type":"text","dy":-2.5,"fontSize":12.5,"baseline":"alphabetic"},"encoding":{"x":{"field":"m","type":"quantitative"},"y":{"field":"y","type":"quantitative"},"text":{"field":"t","type":"nominal"}}}]},
{"data":{"values":[{"x1":0.46,"x2":3.52,"y":-0.635,"ty":-0.838,"t":"Non-BOS","m":1.99}]},"layer":[
{"mark":{"type":"rule","color":"#111","strokeWidth":1.5},"encoding":{"x":{"field":"x1","type":"quantitative"},"x2":{"field":"x2"},"y":{"field":"y","type":"quantitative"}}},
{"mark":{"type":"text","fontSize":13,"baseline":"middle"},"encoding":{"x":{"field":"m","type":"quantitative"},"y":{"field":"ty","type":"quantitative"},"text":{"field":"t","type":"nominal"}}}]},
{"data":{"values":[{"x":2.98,"y":-0.141}]},"mark":{"type":"text","fontSize":9.5,"fontStyle":"italic","baseline":"top","lineHeight":12.5},"encoding":{"x":{"field":"x","type":"quantitative"},"y":{"field":"y","type":"quantitative"},"text":{"value":["Pseudomonas","aeruginosa"]}}},
{"data":{"values":[{"x":-0.106,"y":1.5,"t":"Log₁₀ HMGB1 (ng/mL)"}]},"mark":{"type":"text","fontSize":12.5,"angle":270,"baseline":"middle","align":"center"},"encoding":{"x":{"field":"x","type":"quantitative"},"y":{"field":"y","type":"quantitative"},"text":{"field":"t","type":"nominal"}}},
{"data":{"values":[{"x":-0.247,"y":3.653,"t":"G"}]},"mark":{"type":"text","fontSize":18,"baseline":"middle"},"encoding":{"x":{"field":"x","type":"quantitative"},"y":{"field":"y","type":"quantitative"},"text":{"field":"t","type":"nominal"}}},
{"data":{"values":[{"x":0.0,"y":3.547,"t":"(i)"}]},"mark":{"type":"text","fontSize":13,"baseline":"middle"},"encoding":{"x":{"field":"x","type":"quantitative"},"y":{"field":"y","type":"quantitative"},"text":{"field":"t","type":"nominal"}}},
{"data":{"values":[{"x1":-0.46,"x2":3.6,"y1":3.847,"y2":-1.041}]},"mark":{"type":"rule","opacity":0,"strokeWidth":0},"encoding":{"x":{"field":"x1","type":"quantitative"},"x2":{"field":"x2"},"y":{"field":"y1","type":"quantitative"},"y2":{"field":"y2"}}}
]}
],"spacing":0,"resolve":{"scale":{"fill":"independent"}}},
{"hconcat":[
{"width":1,"height":1,"data":{"values":[{}]},"mark":{"type":"rule","opacity":0,"strokeWidth":0},"encoding":{}},
{"width":173,"height":170,"layer":[
{"data":{"name":"il"},"transform":[{"filter":"datum.b=='BOS'"}],"mark":{"type":"point","shape":"circle","filled":true,"size":34,"stroke":"#111","strokeWidth":1.4,"opacity":1},
"encoding":{"x":{"field":"x","type":"quantitative","scale":{"domain":[0.46,3.52],"nice":false,"zero":false},"axis":{"values":[1,2,3],"title":null,"labelFontSize":10,"labelLineHeight":12.5,"labelPadding":3,"labelExpr":"datum.value==1?['No','organisms']:datum.value==2?['Other','organisms']:''"}},
"y":{"field":"v","type":"quantitative","scale":{"domain":[-0.5,1.5],"nice":false,"zero":false},"axis":{"values":[-0.5,0,0.5,1,1.5],"labelExpr":"datum.value==0?'0':format(datum.value,'.1f')","title":null}},
"fill":{"field":"k","type":"nominal","scale":{"domain":[1,2,3],"range":["#ffffff","#7f7f7f","#000000"]},"legend":null}}},
{"data":{"name":"il"},"transform":[{"filter":"datum.b=='BOS'"},{"aggregate":[{"op":"median","field":"v","as":"m"}],"groupby":["k"]}],"mark":{"type":"tick","orient":"horizontal","color":"#e82a2a","size":33,"thickness":2},"encoding":{"x":{"field":"k","type":"quantitative"},"y":{"field":"m","type":"quantitative"}}},
{"data":{"values":[{"x1":0.83,"x2":1.92,"y":1.747,"t":"0.14","m":1.375},{"x1":1.97,"x2":3.07,"y":1.747,"t":"0.16","m":2.52},{"x1":0.83,"x2":3.07,"y":1.553,"t":"*","m":1.95}]},"layer":[
{"mark":{"type":"rule","color":"#111","strokeWidth":1.5},"encoding":{"x":{"field":"x1","type":"quantitative"},"x2":{"field":"x2"},"y":{"field":"y","type":"quantitative"}}},
{"mark":{"type":"text","dy":-2.5,"fontSize":12.5,"baseline":"alphabetic"},"encoding":{"x":{"field":"m","type":"quantitative"},"y":{"field":"y","type":"quantitative"},"text":{"field":"t","type":"nominal"}}}]},
{"data":{"values":[{"x1":0.46,"x2":3.52,"y":-0.888,"ty":-1.041,"t":"BOS","m":1.99}]},"layer":[
{"mark":{"type":"rule","color":"#111","strokeWidth":1.5},"encoding":{"x":{"field":"x1","type":"quantitative"},"x2":{"field":"x2"},"y":{"field":"y","type":"quantitative"}}},
{"mark":{"type":"text","fontSize":13,"baseline":"middle"},"encoding":{"x":{"field":"m","type":"quantitative"},"y":{"field":"ty","type":"quantitative"},"text":{"field":"t","type":"nominal"}}}]},
{"data":{"values":[{"x":3,"y":-0.594}]},"mark":{"type":"text","fontSize":10,"fontStyle":"italic","baseline":"top","lineHeight":12.5},"encoding":{"x":{"field":"x","type":"quantitative"},"y":{"field":"y","type":"quantitative"},"text":{"value":["Pseudomonas","aeruginosa"]}}},
{"data":{"values":[{"x":-0.265,"y":0.5,"t":"Log₁₀ IL-1α (pg/mL)"}]},"mark":{"type":"text","fontSize":12.5,"angle":270,"baseline":"middle","align":"center"},"encoding":{"x":{"field":"x","type":"quantitative"},"y":{"field":"y","type":"quantitative"},"text":{"field":"t","type":"nominal"}}},
{"data":{"values":[{"x":-0.148,"y":1.838,"t":"(ii)"}]},"mark":{"type":"text","fontSize":13,"baseline":"middle"},"encoding":{"x":{"field":"x","type":"quantitative"},"y":{"field":"y","type":"quantitative"},"text":{"field":"t","type":"nominal"}}},
{"data":{"values":[{"x1":-0.357,"x2":3.684,"y1":2.006,"y2":-1.124}]},"mark":{"type":"rule","opacity":0,"strokeWidth":0},"encoding":{"x":{"field":"x1","type":"quantitative"},"x2":{"field":"x2"},"y":{"field":"y1","type":"quantitative"},"y2":{"field":"y2"}}}
]},
{"width":173,"height":170,"layer":[
{"data":{"name":"ne"},"transform":[{"filter":"datum.b=='BOS'"}],"mark":{"type":"point","shape":"circle","filled":true,"size":34,"stroke":"#111","strokeWidth":1.4,"opacity":1},
"encoding":{"x":{"field":"x","type":"quantitative","scale":{"domain":[0.46,3.52],"nice":false,"zero":false},"axis":{"values":[1,2,3],"title":null,"labelFontSize":10,"labelLineHeight":12.5,"labelPadding":3,"labelExpr":"datum.value==1?['No','organisms']:datum.value==2?['Other','organisms']:''"}},
"y":{"field":"v","type":"quantitative","scale":{"domain":[-1,3],"nice":false,"zero":false},"axis":{"values":[-1,0,1,2,3],"format":"d","title":null}},
"fill":{"field":"k","type":"nominal","scale":{"domain":[1,2,3],"range":["#ffffff","#7f7f7f","#000000"]},"legend":null}}},
{"data":{"name":"ne"},"transform":[{"filter":"datum.b=='BOS'"},{"aggregate":[{"op":"median","field":"v","as":"m"}],"groupby":["k"]}],"mark":{"type":"tick","orient":"horizontal","color":"#e82a2a","size":33,"thickness":2},"encoding":{"x":{"field":"k","type":"quantitative"},"y":{"field":"m","type":"quantitative"}}},
{"data":{"values":[{"x1":0.83,"x2":1.92,"y":3.494,"t":"0.24","m":1.375},{"x1":1.97,"x2":3.07,"y":3.494,"t":"0.16","m":2.52},{"x1":0.83,"x2":3.07,"y":3.106,"t":"*","m":1.95}]},"layer":[
{"mark":{"type":"rule","color":"#111","strokeWidth":1.5},"encoding":{"x":{"field":"x1","type":"quantitative"},"x2":{"field":"x2"},"y":{"field":"y","type":"quantitative"}}},
{"mark":{"type":"text","dy":-2.5,"fontSize":12.5,"baseline":"alphabetic"},"encoding":{"x":{"field":"m","type":"quantitative"},"y":{"field":"y","type":"quantitative"},"text":{"field":"t","type":"nominal"}}}]},
{"data":{"values":[{"x1":0.46,"x2":3.52,"y":-1.776,"ty":-2.082,"t":"BOS","m":1.99}]},"layer":[
{"mark":{"type":"rule","color":"#111","strokeWidth":1.5},"encoding":{"x":{"field":"x1","type":"quantitative"},"x2":{"field":"x2"},"y":{"field":"y","type":"quantitative"}}},
{"mark":{"type":"text","fontSize":13,"baseline":"middle"},"encoding":{"x":{"field":"m","type":"quantitative"},"y":{"field":"ty","type":"quantitative"},"text":{"field":"t","type":"nominal"}}}]},
{"data":{"values":[{"x":3,"y":-1.188}]},"mark":{"type":"text","fontSize":10,"fontStyle":"italic","baseline":"top","lineHeight":12.5},"encoding":{"x":{"field":"x","type":"quantitative"},"y":{"field":"y","type":"quantitative"},"text":{"value":["Pseudomonas","aeruginosa"]}}},
{"data":{"values":[{"x":-0.23,"y":1.0,"t":"Log₁₀ Neutrophils (%)"}]},"mark":{"type":"text","fontSize":12.5,"angle":270,"baseline":"middle","align":"center"},"encoding":{"x":{"field":"x","type":"quantitative"},"y":{"field":"y","type":"quantitative"},"text":{"field":"t","type":"nominal"}}},
{"data":{"values":[{"x":-0.177,"y":3.675,"t":"(ii)"}]},"mark":{"type":"text","fontSize":13,"baseline":"middle"},"encoding":{"x":{"field":"x","type":"quantitative"},"y":{"field":"y","type":"quantitative"},"text":{"field":"t","type":"nominal"}}},
{"data":{"values":[{"x1":-0.53,"x2":3.803,"y1":4.012,"y2":-2.247}]},"mark":{"type":"rule","opacity":0,"strokeWidth":0},"encoding":{"x":{"field":"x1","type":"quantitative"},"x2":{"field":"x2"},"y":{"field":"y1","type":"quantitative"},"y2":{"field":"y2"}}}
]},
{"width":173,"height":170,"layer":[
{"data":{"name":"hm"},"transform":[{"filter":"datum.b=='BOS'"}],"mark":{"type":"point","shape":"circle","filled":true,"size":34,"stroke":"#111","strokeWidth":1.4,"opacity":1},
"encoding":{"x":{"field":"x","type":"quantitative","scale":{"domain":[0.46,3.52],"nice":false,"zero":false},"axis":{"values":[1,2,3],"title":null,"labelFontSize":10,"labelLineHeight":12.5,"labelPadding":3,"labelExpr":"datum.value==1?['No','organisms']:datum.value==2?['Other','organisms']:''"}},
"y":{"field":"v","type":"quantitative","scale":{"domain":[0,3],"nice":false,"zero":false},"axis":{"values":[0,1,2,3],"format":"d","title":null}},
"fill":{"field":"k","type":"nominal","scale":{"domain":[1,2,3],"range":["#ffffff","#7f7f7f","#000000"]},"legend":null}}},
{"data":{"name":"hm"},"transform":[{"filter":"datum.b=='BOS'"},{"aggregate":[{"op":"median","field":"v","as":"m"}],"groupby":["k"]}],"mark":{"type":"tick","orient":"horizontal","color":"#e82a2a","size":33,"thickness":2},"encoding":{"x":{"field":"k","type":"quantitative"},"y":{"field":"m","type":"quantitative"}}},
{"data":{"values":[{"x1":0.83,"x2":1.92,"y":3.37,"t":"0.68","m":1.375},{"x1":1.97,"x2":3.07,"y":3.37,"t":"0.95","m":2.52},{"x1":0.83,"x2":3.07,"y":3.079,"t":"0.94","m":1.95}]},"layer":[
{"mark":{"type":"rule","color":"#111","strokeWidth":1.5},"encoding":{"x":{"field":"x1","type":"quantitative"},"x2":{"field":"x2"},"y":{"field":"y","type":"quantitative"}}},
{"mark":{"type":"text","dy":-2.5,"fontSize":12.5,"baseline":"alphabetic"},"encoding":{"x":{"field":"m","type":"quantitative"},"y":{"field":"y","type":"quantitative"},"text":{"field":"t","type":"nominal"}}}]},
{"data":{"values":[{"x1":0.46,"x2":3.52,"y":-0.582,"ty":-0.812,"t":"BOS","m":1.99}]},"layer":[
{"mark":{"type":"rule","color":"#111","strokeWidth":1.5},"encoding":{"x":{"field":"x1","type":"quantitative"},"x2":{"field":"x2"},"y":{"field":"y","type":"quantitative"}}},
{"mark":{"type":"text","fontSize":13,"baseline":"middle"},"encoding":{"x":{"field":"m","type":"quantitative"},"y":{"field":"ty","type":"quantitative"},"text":{"field":"t","type":"nominal"}}}]},
{"data":{"values":[{"x":2.98,"y":-0.141}]},"mark":{"type":"text","fontSize":9.5,"fontStyle":"italic","baseline":"top","lineHeight":12.5},"encoding":{"x":{"field":"x","type":"quantitative"},"y":{"field":"y","type":"quantitative"},"text":{"value":["Pseudomonas","aeruginosa"]}}},
{"data":{"values":[{"x":-0.106,"y":1.5,"t":"Log₁₀ HMGB1 (ng/mL)"}]},"mark":{"type":"text","fontSize":12.5,"angle":270,"baseline":"middle","align":"center"},"encoding":{"x":{"field":"x","type":"quantitative"},"y":{"field":"y","type":"quantitative"},"text":{"field":"t","type":"nominal"}}},
{"data":{"values":[{"x":-0.295,"y":3.506,"t":"(ii)"}]},"mark":{"type":"text","fontSize":13,"baseline":"middle"},"encoding":{"x":{"field":"x","type":"quantitative"},"y":{"field":"y","type":"quantitative"},"text":{"field":"t","type":"nominal"}}},
{"data":{"values":[{"x1":-0.525,"x2":3.6,"y1":3.759,"y2":-0.935}]},"mark":{"type":"rule","opacity":0,"strokeWidth":0},"encoding":{"x":{"field":"x1","type":"quantitative"},"x2":{"field":"x2"},"y":{"field":"y1","type":"quantitative"},"y2":{"field":"y2"}}}
]}
],"spacing":0,"resolve":{"scale":{"fill":"independent"}}}
]
}
